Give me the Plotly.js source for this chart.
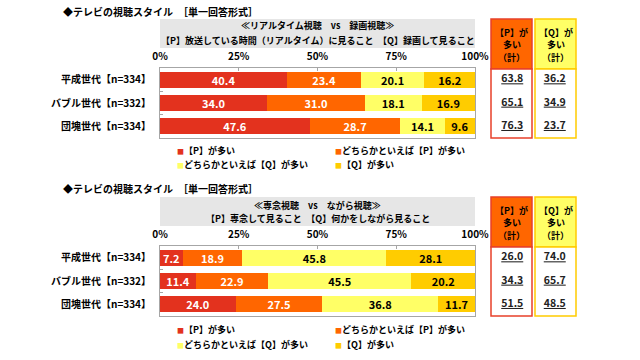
<!DOCTYPE html>
<html>
<head>
<meta charset="utf-8">
<script src="https://cdn.plot.ly/plotly-3.0.1.min.js"></script>
<style>html,body{margin:0;padding:0;background:#fff;}#chart{width:640px;height:360px;}</style>
</head>
<body>
<div id="chart"></div>
<script>
// ---- data ----
var groups = ['平成世代【n=334】', 'バブル世代【n=332】', '団塊世代【n=334】'];
var seriesNames = ['【P】が多い', 'どちらかといえば【P】が多い', 'どちらかといえば【Q】が多い', '【Q】が多い'];
var seriesColors = ['#e3321e', '#ff6600', '#ffff66', '#ffcc00'];
var xTickVals = [0, 25, 50, 75, 100];
var xTickText = ['0%', '25%', '50%', '75%', '100%'];

var panelTitle = '◆テレビの視聴スタイル　［単一回答形式］';
var p1Head1 = '≪リアルタイム視聴　vs　録画視聴≫';
var p1Head2 = '【P】放送している時間（リアルタイム）に見ること　【Q】録画して見ること';
var p2Head1 = '≪専念視聴　vs　ながら視聴≫';
var p2Head2 = '【P】専念して見ること　【Q】何かをしながら見ること';
var totHeadP = ['【P】が', '多い', '（計）'];
var totHeadQ = ['【Q】が', '多い', '（計）'];

// panel 1
var p1_P  = [40.4, 34.0, 47.6];
var p1_rP = [23.4, 31.0, 28.7];
var p1_rQ = [20.1, 18.1, 14.1];
var p1_Q  = [16.2, 16.9, 9.6];
var p1_totP = [63.8, 65.1, 76.3];
var p1_totQ = [36.2, 34.9, 23.7];
// panel 2
var p2_P  = [7.2, 11.4, 24.0];
var p2_rP = [18.9, 22.9, 27.5];
var p2_rQ = [45.8, 45.5, 36.8];
var p2_Q  = [28.1, 20.2, 11.7];
var p2_totP = [26.0, 34.3, 51.5];
var p2_totQ = [74.0, 65.7, 48.5];

// ---- helpers ----
var W = 640, H = 360;
function px(x) { return x / W; }
function py(y) { return 1 - y / H; }
var FONT = '"Noto Sans CJK JP", "Noto Sans", sans-serif';
var textColors = ['#ffffff', '#ffffff', '#000000', '#000000'];

var traces = [];
function addBars(series, xa, ya) {
  series.forEach(function (vals, i) {
    traces.push({
      type: 'bar', orientation: 'h', x: vals, y: groups, name: seriesNames[i],
      xaxis: xa, yaxis: ya, showlegend: false,
      marker: { color: seriesColors[i], line: { width: 0 } },
      text: vals.map(function (v) { return v.toFixed(1); }),
      textposition: 'inside', insidetextanchor: 'middle', constraintext: 'none',
      insidetextfont: { family: FONT, size: 11, weight: 700, color: textColors[i] },
      hoverinfo: 'skip'
    });
  });
}
addBars([p1_P, p1_rP, p1_rQ, p1_Q], 'x', 'y');
addBars([p2_P, p2_rP, p2_rQ, p2_Q], 'x2', 'y2');

function addTotals(vals, col, xa, ya) {
  traces.push({
    type: 'scatter', mode: 'text', x: vals.map(function () { return col; }), y: groups,
    xaxis: xa, yaxis: ya, showlegend: false, hoverinfo: 'skip',
    text: vals.map(function (v) { return '<u>' + v.toFixed(1) + '</u>'; }),
    textfont: { family: FONT, size: 10.5, weight: 700, color: '#222' }
  });
}
addTotals(p1_totP, 'P', 'x3', 'y');
addTotals(p1_totQ, 'Q', 'x3', 'y');
addTotals(p2_totP, 'P', 'x4', 'y2');
addTotals(p2_totQ, 'Q', 'x4', 'y2');

function xAxis(anchor) {
  return {
    domain: [px(160), px(475)], range: [0, 100], anchor: anchor, side: 'top',
    tickvals: xTickVals, ticktext: xTickText, ticks: 'inside', ticklen: 3, tickcolor: '#a6a6a6',
    ticklabelstandoff: 3,
    showline: true, mirror: true, linecolor: '#a6a6a6', linewidth: 1,
    showgrid: false, zeroline: false, fixedrange: true,
    tickfont: { family: FONT, size: 10, weight: 700, color: '#000' }
  };
}
function yAxis(anchor, top, bottom) {
  return {
    domain: [py(bottom), py(top)], anchor: anchor, type: 'category', categoryarray: groups,
    autorange: 'reversed', ticks: 'inside', tickson: 'boundaries', ticklen: 3, tickcolor: '#a6a6a6',
    ticklabelstandoff: 6,
    showline: true, mirror: true, linecolor: '#a6a6a6', linewidth: 1,
    showgrid: false, zeroline: false, fixedrange: true,
    tickfont: { family: FONT, size: 10, weight: 700, color: '#000' }
  };
}
function totAxis(anchor) {
  return { domain: [px(491), px(576)], anchor: anchor, type: 'category', categoryarray: ['P', 'Q'],
    range: [-0.5, 1.5], visible: false, fixedrange: true };
}

var shapes = [];
function rect(x0, x1, y0, y1, fill, lineColor, lw) {
  shapes.push({ type: 'rect', xref: 'paper', yref: 'paper', layer: 'below',
    x0: px(x0), x1: px(x1), y0: py(y1), y1: py(y0), fillcolor: fill,
    line: { color: lineColor, width: lw } });
}
var annotations = [];
function ann(text, x, y, size, xanchor) {
  annotations.push({ text: text, xref: 'paper', yref: 'paper', x: px(x), y: py(y),
    xanchor: xanchor || 'center', yanchor: 'middle', showarrow: false,
    borderpad: 0, font: { family: FONT, size: size, weight: 700, color: '#000' } });
}

function panel(top) {
  // top = pixel y of gray header box top
  var t = top;
  rect(160, 475, t, t + 29, '#e6e6e6', 'rgba(0,0,0,0)', 0);
  rect(491, 532, t, t + 50, '#ff6600', '#e8402a', 1.5);
  rect(491, 532, t + 50, t + 119, '#ffffff', '#e8402a', 1.5);
  rect(535, 576, t, t + 50, '#ffff66', '#ffcc00', 1.5);
  rect(535, 576, t + 50, t + 119, '#ffffff', '#ffcc00', 1.5);
  [13, 25, 38].forEach(function (dy, k) {
    ann(totHeadP[k], 511.5, t + dy, 9);
    ann(totHeadQ[k], 555.5, t + dy, 9);
  });
}
panel(19);
panel(197);

ann(panelTitle, 62, 12, 10, 'left');
ann(panelTitle, 62, 188, 10, 'left');
ann(p1Head1, 317.5, 26, 9);
ann(p1Head2, 317.5, 40, 9);
ann(p2Head1, 317.5, 205, 9);
ann(p2Head2, 317.5, 219, 9);

function legend(rowY) {
  seriesNames.forEach(function (nm, i) {
    var col = i % 2, row = Math.floor(i / 2);
    ann('<span style="color:' + seriesColors[i] + ';font-size:7px">■</span>' + nm,
        col ? 334 : 176, rowY[row], 9, 'left');
  });
}
legend([150, 165]);
legend([329, 344]);

var layout = {
  width: W, height: H, margin: { l: 0, r: 0, t: 0, b: 0 },
  paper_bgcolor: '#ffffff', plot_bgcolor: 'rgba(0,0,0,0)',
  barmode: 'stack', bargap: 0.32, showlegend: false,
  font: { family: FONT, color: '#000' },
  xaxis: xAxis('y'), yaxis: yAxis('x', 68, 138),
  xaxis2: xAxis('y2'), yaxis2: yAxis('x2', 246, 316),
  xaxis3: totAxis('y'), xaxis4: totAxis('y2'),
  shapes: shapes, annotations: annotations
};

Plotly.newPlot('chart', traces, layout, { staticPlot: true, displayModeBar: false });
</script>
</body>
</html>
